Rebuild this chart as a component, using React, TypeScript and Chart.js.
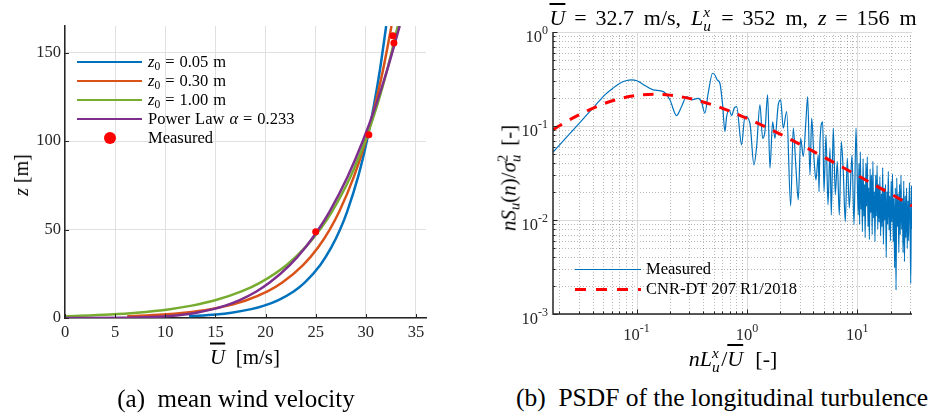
import React, { useEffect, useRef } from 'react';
import { Chart, registerables } from 'chart.js';

Chart.register(...registerables);

const FONT = '"Liberation Serif", "Times New Roman", serif';
const AXIS = '#262626';

// ---------- (a) mean wind velocity ----------
const z0Labels = ['0.05', '0.30', '1.00'];
const powerAlpha = '0.233';
const zLogLaw = [1, 2, 3, 5, 7, 10, 15, 20, 30, 40, 50, 60, 80, 100, 120, 140, 165];
const uZ0005 = [12.37, 15.04, 16.6, 18.57, 19.86, 21.23, 22.8, 23.9, 25.46, 26.57, 27.43, 28.13, 29.24, 30.1, 30.8, 31.4, 32.03];
const uZ0030 = [6.21, 9.79, 11.88, 14.52, 16.25, 18.09, 20.19, 21.67, 23.76, 25.25, 26.4, 27.34, 28.82, 29.98, 30.91, 31.71, 32.56];
const uZ0100 = [0, 4.5, 7.14, 10.46, 12.65, 14.97, 17.6, 19.47, 22.11, 23.98, 25.43, 26.61, 28.48, 29.93, 31.12, 32.12, 33.19];
const zPower = [0, 0.1, 0.5, 1, 2, 3, 5, 7, 10, 15, 20, 30, 40, 50, 60, 80, 100, 120, 140, 165];
const uPower = [0, 5.94, 8.64, 10.15, 11.94, 13.12, 14.78, 15.98, 17.37, 19.09, 20.41, 22.44, 23.99, 25.27, 26.37, 28.19, 29.7, 30.99, 32.12, 33.38];
const measuredU = [25.0, 30.3, 32.8, 32.7];
const measuredZ = [48.7, 103.5, 155.4, 159.5];
const profileColors = ['#0072BD', '#D95319', '#77AC30', '#7E2F8E'];

// ---------- (b) PSDF ----------
const psdFreq = [
  0.01753, 0.02239, 0.03062, 0.04185, 0.05161, 0.06097, 0.07057, 0.07998, 0.09065, 0.1006,
  0.1072, 0.1189, 0.1415, 0.1749, 0.2004, 0.2305, 0.2558, 0.284, 0.3151, 0.3618,
  0.3885, 0.416, 0.4457, 0.4887, 0.5128, 0.5378, 0.569, 0.6021, 0.6318, 0.6546,
  0.6912, 0.7269, 0.7671, 0.8065, 0.8952, 0.9591, 1.0647, 1.1574, 1.2244, 1.3118,
  1.3879, 1.4561, 1.5404, 1.6162, 1.71, 1.7943, 1.922, 2.021, 2.1337, 2.291,
  2.49, 2.6292, 2.7813, 2.9183, 3.0685, 3.2391, 3.4269, 3.5506, 3.7255, 3.8598,
  4.0494, 4.2227, 4.4302, 4.5, 4.5902, 4.857, 4.9907, 5.2032, 5.4257, 5.6567,
  5.8125, 6.0599, 6.318, 6.5885, 6.8691, 7.1617, 7.4663, 7.7843, 8.1158, 8.4622,
  8.951, 9.3345, 9.732,
  10.2, 10.35, 10.5, 10.65, 10.8, 10.96, 11.12, 11.28, 11.45, 11.62,
  11.79, 11.96, 12.14, 12.32, 12.5, 12.68, 12.87, 13.06, 13.25, 13.44,
  13.64, 13.84, 14.04, 14.25, 14.46, 14.67, 14.89, 15.11, 15.33, 15.56,
  15.79, 16.02, 16.26, 16.5, 16.74, 16.99, 17.24, 17.49, 17.75, 18.01,
  18.28, 18.55, 18.82, 19.1, 19.38, 19.67, 19.96, 20.25, 20.55, 20.85,
  21.16, 21.47, 21.79, 22.11, 22.44, 22.77, 23.1, 23.44, 23.79, 24.14,
  24.5, 24.86, 25.22, 25.59, 25.97, 26.35, 26.74, 27.13, 27.53, 27.94,
  28.35, 28.77, 29.19, 29.62, 30.06, 30.5, 30.95, 31.2,
];
const psdMeasured = [
  0.0527, 0.0724, 0.1087, 0.163, 0.214, 0.252, 0.285, 0.303, 0.309, 0.303,
  0.292, 0.27, 0.242, 0.232, 0.19, 0.129, 0.161, 0.206, 0.19, 0.197,
  0.179, 0.137, 0.223, 0.364, 0.349, 0.309, 0.285, 0.168, 0.0873, 0.126,
  0.148, 0.129, 0.155, 0.161, 0.063, 0.127, 0.107, 0.0386, 0.0605, 0.168,
  0.074, 0.087, 0.214, 0.0356, 0.111, 0.074, 0.168, 0.19, 0.095, 0.142,
  0.0141, 0.095, 0.0356, 0.0164, 0.074, 0.0475, 0.116, 0.206, 0.0302, 0.121,
  0.0455, 0.0267, 0.0492, 0.02, 0.0684, 0.111, 0.0202, 0.08, 0.0145, 0.058,
  0.0113, 0.095, 0.0186, 0.042, 0.0113, 0.0684, 0.032, 0.0096, 0.0455, 0.0134,
  0.0492, 0.0089, 0.095,
  0.0113, 0.04, 0.009, 0.053, 0.013, 0.028, 0.0075, 0.045, 0.011, 0.024,
  0.0065, 0.04, 0.014, 0.047, 0.0085, 0.022, 0.0062, 0.035, 0.012, 0.03,
  0.007, 0.042, 0.0105, 0.02, 0.0059, 0.03, 0.011, 0.038, 0.008, 0.024,
  0.0095, 0.029, 0.0068, 0.019, 0.0085, 0.036, 0.0055, 0.022, 0.01, 0.024,
  0.004, 0.02, 0.009, 0.033, 0.0078, 0.018, 0.006, 0.026, 0.0095, 0.031,
  0.0059, 0.017, 0.0031, 0.022, 0.0018, 0.028, 0.0085, 0.019, 0.0045, 0.024,
  0.007, 0.03, 0.008, 0.017, 0.0045, 0.026, 0.0036, 0.018, 0.0065, 0.022,
  0.005, 0.016, 0.006, 0.025, 0.012, 0.0021, 0.023, 0.008,
];
const cnrFreq = [0.0175, 0.02, 0.03, 0.05, 0.07, 0.1, 0.15, 0.2, 0.3, 0.5, 0.7, 1, 1.5, 2, 3, 5, 7, 10, 15, 20, 31.3];
const cnrPSD = [0.0912, 0.1006, 0.1315, 0.1719, 0.1945, 0.211, 0.2171, 0.213, 0.1968, 0.1663, 0.1439, 0.1207, 0.0968, 0.082, 0.0642, 0.0466, 0.0376, 0.0299, 0.0229, 0.019, 0.0141];
const xMajorExp = [-1, 0, 1];
const yMajorExp = [-3, -2, -1, 0];
const X_MIN = 0.0175;
const X_MAX = 31.3;

function minorValues(exps: number[], min: number, max: number) {
  const out: number[] = [];
  for (const e of exps) for (let m = 2; m <= 9; m++) {
    const v = m * Math.pow(10, e);
    if (v > min && v < max) out.push(v);
  }
  return out;
}

const innerTicksA = {
  id: 'innerTicksA',
  afterDraw(chart: any) {
    const { ctx, chartArea } = chart;
    const { left, bottom } = chartArea;
    ctx.save();
    ctx.strokeStyle = AXIS;
    ctx.lineWidth = 1;
    for (const t of chart.scales.x.ticks) {
      const p = Math.round(chart.scales.x.getPixelForValue(t.value)) + 0.5;
      ctx.beginPath(); ctx.moveTo(p, bottom); ctx.lineTo(p, bottom - 4); ctx.stroke();
    }
    for (const t of chart.scales.y.ticks) {
      const p = Math.round(chart.scales.y.getPixelForValue(t.value)) + 0.5;
      ctx.beginPath(); ctx.moveTo(left, p); ctx.lineTo(left + 4, p); ctx.stroke();
    }
    ctx.restore();
  },
};

function drawPow(ctx: CanvasRenderingContext2D, exp: number, x: number, baseY: number, align: 'center' | 'right') {
  const big = `16.5px ${FONT}`;
  const small = `12px ${FONT}`;
  ctx.font = big;
  const w1 = ctx.measureText('10').width;
  const s = exp < 0 ? '-' + Math.abs(exp) : String(exp);
  ctx.font = small;
  const w2 = ctx.measureText(s).width;
  const total = w1 + w2;
  const x0 = align === 'center' ? x - total / 2 : x - total;
  ctx.fillStyle = AXIS;
  ctx.textAlign = 'left';
  ctx.textBaseline = 'alphabetic';
  ctx.font = big;
  ctx.fillText('10', x0, baseY);
  ctx.font = small;
  ctx.fillText(s, x0 + w1, baseY - 8);
}

const logDecor = {
  id: 'logDecor',
  beforeDatasetsDraw(chart: any) {
    const { ctx, chartArea } = chart;
    const { left, right, top, bottom } = chartArea;
    const xs = chart.scales.x;
    const ys = chart.scales.y;
    ctx.save();
    ctx.lineWidth = 1;
    ctx.strokeStyle = 'rgba(38,38,38,0.33)';
    ctx.setLineDash([1, 2]);
    for (const v of minorValues([-2, -1, 0, 1], X_MIN, X_MAX)) {
      const p = Math.round(xs.getPixelForValue(v)) + 0.5;
      ctx.beginPath(); ctx.moveTo(p, top); ctx.lineTo(p, bottom); ctx.stroke();
    }
    for (const v of minorValues([-3, -2, -1], 0.001, 1)) {
      const p = Math.round(ys.getPixelForValue(v)) + 0.5;
      ctx.beginPath(); ctx.moveTo(left, p); ctx.lineTo(right, p); ctx.stroke();
    }
    ctx.setLineDash([]);
    ctx.strokeStyle = '#dadada';
    for (const e of xMajorExp) {
      const p = Math.round(xs.getPixelForValue(Math.pow(10, e))) + 0.5;
      ctx.beginPath(); ctx.moveTo(p, top); ctx.lineTo(p, bottom); ctx.stroke();
    }
    for (const e of yMajorExp) {
      const p = Math.round(ys.getPixelForValue(Math.pow(10, e))) + 0.5;
      ctx.beginPath(); ctx.moveTo(left, p); ctx.lineTo(right, p); ctx.stroke();
    }
    ctx.restore();
  },
  afterDraw(chart: any) {
    const { ctx, chartArea } = chart;
    const { left, right, top, bottom } = chartArea;
    const xs = chart.scales.x;
    const ys = chart.scales.y;
    ctx.save();
    ctx.strokeStyle = AXIS;
    ctx.lineWidth = 1;
    for (const v of minorValues([-2, -1, 0, 1], X_MIN, X_MAX)) {
      const p = Math.round(xs.getPixelForValue(v)) + 0.5;
      ctx.beginPath(); ctx.moveTo(p, bottom); ctx.lineTo(p, bottom - 2.5); ctx.stroke();
    }
    for (const v of minorValues([-3, -2, -1], 0.001, 1)) {
      const p = Math.round(ys.getPixelForValue(v)) + 0.5;
      ctx.beginPath(); ctx.moveTo(left, p); ctx.lineTo(left + 2.5, p); ctx.stroke();
    }
    for (const e of xMajorExp) {
      const p = Math.round(xs.getPixelForValue(Math.pow(10, e))) + 0.5;
      ctx.beginPath(); ctx.moveTo(p, bottom); ctx.lineTo(p, bottom - 4.5); ctx.stroke();
    }
    for (const e of yMajorExp) {
      const p = Math.round(ys.getPixelForValue(Math.pow(10, e))) + 0.5;
      ctx.beginPath(); ctx.moveTo(left, p); ctx.lineTo(left + 4.5, p); ctx.stroke();
    }
    ctx.lineWidth = 1.5;
    ctx.beginPath();
    ctx.moveTo(left, top);
    ctx.lineTo(left, bottom);
    ctx.lineTo(right, bottom);
    ctx.stroke();
    for (const e of xMajorExp) drawPow(ctx, e, xs.getPixelForValue(Math.pow(10, e)), 340, 'center');
    for (const e of yMajorExp) drawPow(ctx, e, left - 5, ys.getPixelForValue(Math.pow(10, e)) + 9.5, 'right');
    ctx.restore();
  },
};

function pairs(xs: number[], ys: number[]) {
  return xs.map((x, i) => ({ x, y: ys[i] }));
}

const Sub = ({ children }: { children: React.ReactNode }) => (
  <span style={{ fontSize: '0.7em', position: 'relative', top: '0.3em' }}>{children}</span>
);

const SupSub = ({ sup, sub, supItalic }: { sup: string; sub: string; supItalic?: boolean }) => (
  <span style={{ display: 'inline-block', position: 'relative', width: '0.42em', height: '1em' }}>
    <span style={{ position: 'absolute', left: 0, top: '0.06em', fontSize: '0.7em', lineHeight: 1, fontStyle: supItalic ? 'italic' : 'normal' }}>{sup}</span>
    <span style={{ position: 'absolute', left: 0, top: '0.98em', fontSize: '0.7em', lineHeight: 1, fontStyle: 'italic' }}>{sub}</span>
  </span>
);

const Ubar = () => (
  <span style={{ textDecoration: 'overline', fontStyle: 'italic' }}>U</span>
);

const Eq = () => <span style={{ margin: '0 0.4em' }}>=</span>;

const Label = ({ x, y, size, rotate = 0, spacing = 0, children }: { x: number; y: number; size: number; rotate?: number; spacing?: number; children: React.ReactNode }) => (
  <div
    style={{
      position: 'absolute', left: x, top: y, fontSize: size, lineHeight: 1, whiteSpace: 'nowrap', color: '#000',
      wordSpacing: `${spacing}em`,
      transform: `translate(-50%, -50%) rotate(${rotate}deg)`,
    }}
  >
    {children}
  </div>
);

export default function App() {
  const refA = useRef<HTMLCanvasElement>(null);
  const refB = useRef<HTMLCanvasElement>(null);

  useEffect(() => {
    const tickFont = { family: FONT, size: 16.5 };
    const chartA = new Chart(refA.current as HTMLCanvasElement, {
      type: 'scatter',
      data: {
        datasets: [
          { label: 'Measured', data: pairs(measuredU, measuredZ), showLine: false, pointRadius: 3.5, pointBackgroundColor: '#FF0000', pointBorderWidth: 0, order: 0 } as any,
          { label: 'Power Law', data: pairs(uPower, zPower), showLine: true, borderColor: profileColors[3], borderWidth: 2.5, pointRadius: 0, cubicInterpolationMode: 'monotone', order: 1 },
          { label: 'z0=1.00', data: pairs(uZ0100, zLogLaw), showLine: true, borderColor: profileColors[2], borderWidth: 2.5, pointRadius: 0, cubicInterpolationMode: 'monotone', order: 2 },
          { label: 'z0=0.30', data: pairs(uZ0030, zLogLaw), showLine: true, borderColor: profileColors[1], borderWidth: 2.5, pointRadius: 0, cubicInterpolationMode: 'monotone', order: 3 },
          { label: 'z0=0.05', data: pairs(uZ0005, zLogLaw), showLine: true, borderColor: profileColors[0], borderWidth: 2.5, pointRadius: 0, cubicInterpolationMode: 'monotone', order: 4 },
        ],
      },
      options: {
        animation: false,
        responsive: false,
        maintainAspectRatio: false,
        devicePixelRatio: 1,
        layout: { padding: { left: 0, right: 44, top: 26, bottom: 0 } },
        plugins: { legend: { display: false }, tooltip: { enabled: false } },
        scales: {
          x: {
            type: 'linear', min: 0, max: 36,
            ticks: { stepSize: 5, includeBounds: false, font: tickFont, color: AXIS, padding: 5, maxRotation: 0, autoSkip: false },
            grid: { color: '#e0e0e0', drawTicks: false, lineWidth: 1 },
            border: { color: AXIS, width: 1.5 },
            afterFit: (s: any) => { s.height = 62; },
          },
          y: {
            type: 'linear', min: 0, max: 165,
            ticks: { stepSize: 50, includeBounds: false, font: tickFont, color: AXIS, padding: 4, autoSkip: false },
            grid: { color: '#e0e0e0', drawTicks: false, lineWidth: 1 },
            border: { color: AXIS, width: 1.5 },
            afterFit: (s: any) => { s.width = 65; },
          },
        },
      } as any,
      plugins: [innerTicksA],
    });

    const chartB = new Chart(refB.current as HTMLCanvasElement, {
      type: 'scatter',
      data: {
        datasets: [
          { label: 'CNR-DT 207 R1/2018', data: pairs(cnrFreq, cnrPSD), showLine: true, borderColor: '#FF0000', borderWidth: 3, borderDash: [10.5, 9], pointRadius: 0, cubicInterpolationMode: 'monotone', order: 0 } as any,
          { label: 'Measured', data: pairs(psdFreq, psdMeasured), showLine: true, borderColor: '#0072BD', borderWidth: 1.2, pointRadius: 0, cubicInterpolationMode: 'monotone', order: 1 },
        ],
      },
      options: {
        animation: false,
        responsive: false,
        maintainAspectRatio: false,
        devicePixelRatio: 1,
        layout: { padding: { left: 0, right: 27, top: 32, bottom: 0 } },
        plugins: { legend: { display: false }, tooltip: { enabled: false } },
        scales: {
          x: {
            type: 'logarithmic', min: X_MIN, max: X_MAX,
            ticks: { display: false },
            grid: { display: false },
            border: { display: false },
            afterFit: (s: any) => { s.height = 66; },
          },
          y: {
            type: 'logarithmic', min: 0.001, max: 1,
            ticks: { display: false },
            grid: { display: false },
            border: { display: false },
            afterFit: (s: any) => { s.width = 83; },
          },
        },
      } as any,
      plugins: [logDecor],
    });

    return () => {
      chartA.destroy();
      chartB.destroy();
    };
  }, []);

  const legendA = [
    ...z0Labels.map((v, i) => ({ color: profileColors[i], text: <><i>z</i><Sub>0</Sub> = {v} m</> })),
    { color: profileColors[3], text: <>Power Law <i>α</i> = {powerAlpha}</> },
  ];

  return (
    <div style={{ position: 'fixed', left: 0, top: 0, width: 939, height: 420, background: '#fff', fontFamily: FONT, overflow: 'hidden' }}>
      <canvas ref={refA} width={470} height={380} style={{ position: 'absolute', left: 0, top: 0, width: 470, height: 380 }} />
      <canvas ref={refB} width={469} height={380} style={{ position: 'absolute', left: 470, top: 0, width: 469, height: 380 }} />

      {/* legend (a) */}
      {legendA.map((it, i) => (
        <React.Fragment key={i}>
          <div style={{ position: 'absolute', left: 77, top: 62 + i * 19 - 1.25, width: 65, height: 2.5, background: it.color }} />
          <div style={{ position: 'absolute', left: 148, top: 62 + i * 19, transform: 'translateY(-50%)', fontSize: 16.5, lineHeight: 1, whiteSpace: 'nowrap', wordSpacing: '0.05em' }}>{it.text}</div>
        </React.Fragment>
      ))}
      <div style={{ position: 'absolute', left: 104, top: 132, width: 12, height: 12, borderRadius: 6, background: '#FF0000' }} />
      <div style={{ position: 'absolute', left: 148, top: 138, transform: 'translateY(-50%)', fontSize: 16.5, lineHeight: 1, whiteSpace: 'nowrap' }}>Measured</div>

      {/* legend (b) */}
      <div style={{ position: 'absolute', left: 575, top: 268.5, width: 66, height: 1.3, background: '#0072BD' }} />
      <div style={{ position: 'absolute', left: 646, top: 269, transform: 'translateY(-50%)', fontSize: 16.5, lineHeight: 1, whiteSpace: 'nowrap' }}>Measured</div>
      <div style={{ position: 'absolute', left: 575, top: 287.5, width: 66, height: 3, background: 'repeating-linear-gradient(to right, #FF0000 0px, #FF0000 11px, transparent 11px, transparent 21px)' }} />
      <div style={{ position: 'absolute', left: 646, top: 289, transform: 'translateY(-50%)', fontSize: 16.5, lineHeight: 1, whiteSpace: 'nowrap' }}>CNR-DT 207 R1/2018</div>

      {/* axis titles (a) */}
      <Label x={21} y={175} size={20} rotate={-90}><i>z</i> [m]</Label>
      <Label x={245} y={357} size={21}><Ubar />&nbsp; [m/s]</Label>

      {/* titles (b) */}
      <Label x={733} y={16} size={22} spacing={0.2}>
        <Ubar /><Eq />32.7 m/s, <i>L</i><SupSub sup="x" sub="u" supItalic /><Eq />352 m, <i>z</i><Eq />156 m
      </Label>
      <Label x={507} y={178} size={21} rotate={-90} spacing={0.1}>
        <i>nS</i><Sub><i>u</i></Sub>(<i>n</i>)/<i>σ</i><SupSub sup="2" sub="u" /> [-]
      </Label>
      <Label x={733} y={357} size={22} spacing={0.3}>
        <i>nL</i><SupSub sup="x" sub="u" supItalic />/<Ubar /> [-]
      </Label>

      {/* captions */}
      <Label x={236} y={398} size={25}>(a)&nbsp; mean wind velocity</Label>
      <Label x={722} y={398} size={25.5}>(b)&nbsp; PSDF of the longitudinal turbulence</Label>
    </div>
  );
}
